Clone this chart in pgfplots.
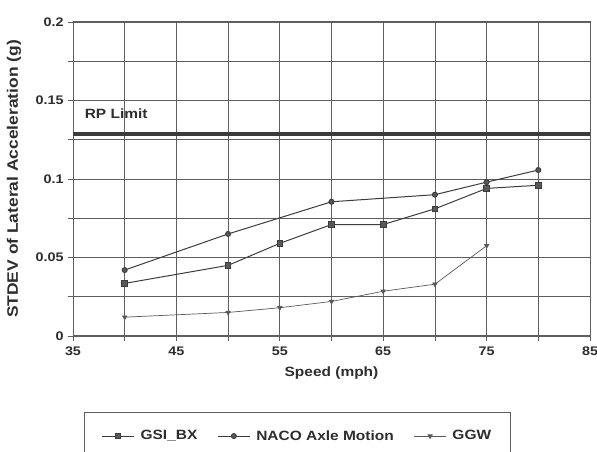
\documentclass[border=0pt]{standalone}
\usepackage{pgfplots}
\pgfplotsset{compat=1.18}
\usepackage{fontspec}
\setmainfont{Liberation Sans}[FakeStretch=1.15]
\definecolor{gridc}{RGB}{95,95,95}
\definecolor{linec}{RGB}{60,60,60}
\definecolor{txt}{RGB}{45,45,45}
\begin{document}
\begin{tikzpicture}[x=1bp,y=1bp]
\useasboundingbox (0,0) rectangle (597,452);
\fill[white] (0,0) rectangle (597,452);
\begin{axis}[
  at={(73bp,116bp)}, anchor=south west,
  scale only axis, width=517bp, height=314bp,
  xmin=35, xmax=85, ymin=0, ymax=0.2,
  xtick={35,45,...,85}, minor xtick={40,50,...,80},
  ytick={0,0.05,...,0.2}, minor ytick={0.025,0.075,...,0.175},
  grid=both,
  major grid style={gridc, line width=0.8pt},
  minor grid style={gridc, line width=0.8pt},
  axis line style={gridc, line width=1pt},
  tick align=outside, major tick length=5bp, minor tick length=5bp,
  tick style={gridc, line width=0.8pt},
  xtick pos=bottom, ytick pos=left,
  /pgf/number format/assume math mode=true,
  yticklabel style={/pgf/number format/fixed, /pgf/number format/precision=2, xshift=-1bp},
  xticklabel style={yshift=-2bp},
  ticklabel style={font=\fontsize{12.5}{14}\selectfont\bfseries, text=txt},
  xlabel={Speed (mph)}, ylabel={STDEV of Lateral Acceleration (g)},
  every axis x label/.style={at={(axis description cs:0.5,-0.118)}, anchor=center,
    font=\fontsize{13.5}{15}\selectfont\bfseries, text=txt},
  every axis y label/.style={at={(axis description cs:-0.114,0.5)}, rotate=90, anchor=center,
    font=\fontsize{15.2}{17}\selectfont\bfseries, text=txt},
  legend columns=3,
  legend style={at={(0.434,-0.242)}, anchor=north, draw=gridc, line width=0.9pt,
    font=\fontsize{13.5}{15}\selectfont\bfseries, text=txt,
    inner xsep=17bp, inner ysep=16bp,
    /tikz/column 1/.style={column sep=4bp},
    /tikz/column 2/.style={column sep=18bp},
    /tikz/column 3/.style={column sep=4bp},
    /tikz/column 4/.style={column sep=18bp},
    /tikz/column 5/.style={column sep=4bp}},
  legend image code/.code={\draw[mark repeat=2,mark phase=2,#1] plot coordinates {(0bp,0bp) (16bp,0bp) (32bp,0bp)};},
]
\addplot[linec, line width=1pt, mark=square*, mark size=2.8pt, mark options={fill=linec!85, draw=linec}]
coordinates {(40,0.0335) (50,0.045) (55,0.059) (60,0.071) (65,0.071) (70,0.081) (75,0.094) (80,0.096)};
\addlegendentry{GSI\_BX}
\addplot[linec, line width=1pt, mark=*, mark size=2.5pt, mark options={fill=linec!85, draw=linec}]
coordinates {(40,0.042) (50,0.065) (60,0.0855) (70,0.09) (75,0.098) (80,0.1057)};
\addlegendentry{NACO Axle Motion}
\addplot[linec!85, line width=0.7pt, mark=triangle*, mark size=2.5pt, mark options={rotate=180, fill=linec!85, draw=linec!85}]
coordinates {(40,0.012) (50,0.015) (55,0.018) (60,0.022) (65,0.0285) (70,0.033) (75,0.0575)};
\addlegendentry{GGW}
\draw[linec, line width=3.5bp] (axis cs:35,0.1287) -- (axis cs:85,0.1287);
\node[anchor=west, font=\fontsize{13.5}{15}\selectfont\bfseries, text=txt] at (axis cs:35.8,0.1418) {RP Limit};
\end{axis}
\end{tikzpicture}
\end{document}
